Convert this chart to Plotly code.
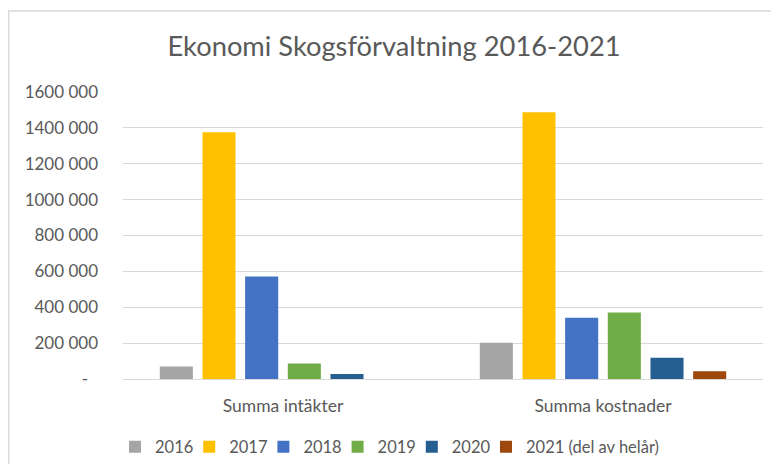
import plotly.graph_objects as go

categories = ["Summa intäkter", "Summa kostnader"]
years = ["2016", "2017", "2018", "2019", "2020", "2021 (del av helår)"]
values_2016 = [70000, 202000]
values_2017 = [1375000, 1487000]
values_2018 = [572000, 341000]
values_2019 = [87000, 371000]
values_2020 = [28000, 119000]
values_2021 = [0, 43000]
series = [values_2016, values_2017, values_2018, values_2019, values_2020, values_2021]
colors = ["#A5A5A5", "#FFC000", "#4472C4", "#70AD47", "#255E91", "#9E480E"]

tick_vals = [0, 200000, 400000, 600000, 800000, 1000000, 1200000, 1400000, 1600000]
tick_text = ["-\u2007", "200 000", "400 000", "600 000", "800 000",
             "1000 000", "1200 000", "1400 000", "1600 000"]

FONT = "Lato"
GREY = "#595959"

# page has an 8px body margin; figure coordinates = reference coordinates - 8
W, H = 763, 456
L, T = 115, 84
PW, PH = 640, 287

def px(x):  # reference x -> paper fraction
    return (x - 8 - L) / PW

def py(y):  # reference y -> paper fraction
    return (T + PH - (y - 8)) / PH

fig = go.Figure()
legend_layouts = {}
for i, (name, vals, col) in enumerate(zip(years, series, colors)):
    key = "legend" if i == 0 else f"legend{i + 1}"
    fig.add_trace(go.Bar(name=name, x=categories, y=vals, marker_color=col,
                         marker_line_width=0, legend=key))
    legend_layouts[key] = dict(
        orientation="h", x=px(115 + 74.2 * i), xanchor="left",
        y=py(447), yanchor="middle", bgcolor="rgba(0,0,0,0)",
        font=dict(family=FONT, size=16.5, color=GREY), itemwidth=30)

fig.update_layout(
    width=W, height=H,
    margin=dict(l=L, r=W - L - PW, t=T, b=H - T - PH, autoexpand=False),
    paper_bgcolor="white", plot_bgcolor="white",
    barmode="group", bargap=0.2, bargroupgap=0.225,
    font=dict(family=FONT, color=GREY, size=15),
    title=dict(text="Ekonomi Skogsförvaltning 2016-2021", x=(394 - 8) / W, xanchor="center",
               y=1 - (46 - 8) / H, yanchor="middle",
               font=dict(family=FONT, size=27.3, color=GREY)),
    showlegend=True,
    shapes=[
        dict(type="line", xref="paper", yref="paper",
             x0=px(8), x1=px(800), y0=py(11), y1=py(11),
             line=dict(color="#D9D9D9", width=1.5)),
        dict(type="line", xref="paper", yref="paper",
             x0=px(8.7), x1=px(8.7), y0=py(11), y1=py(500),
             line=dict(color="#D9D9D9", width=1.5)),
    ],
    **legend_layouts,
)
fig.update_xaxes(showline=True, linecolor="#D9D9D9", linewidth=1, ticks="",
                 ticklabelstandoff=11,
                 tickfont=dict(family=FONT, size=17.5, color=GREY), showgrid=False)
fig.update_yaxes(range=[0, 1600000], tickvals=tick_vals, ticktext=tick_text,
                 showgrid=True, gridcolor="#D9D9D9", gridwidth=1, zeroline=False,
                 ticks="", ticklabelstandoff=24,
                 tickfont=dict(family=FONT, size=17, color=GREY))

fig.write_html("out.html")
